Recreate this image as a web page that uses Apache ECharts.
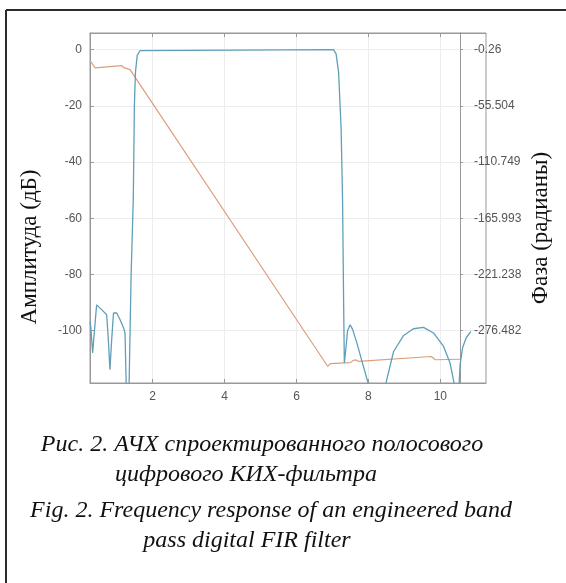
<!DOCTYPE html>
<html>
<head>
<meta charset="utf-8">
<script src="https://cdn.jsdelivr.net/npm/echarts@6/dist/echarts.min.js"></script>
<style>
  html, body { margin: 0; padding: 0; background: #fff; }
  #chart { width: 566px; height: 583px; }
</style>
</head>
<body>
<div id="chart"></div>
<script>
// частота (ось X), метки делений
const xTicks = [2, 4, 6, 8, 10];
const ampTicks = [-100, -80, -60, -40, -20, 0];
const phaseTicks = [-276.482, -221.238, -165.993, -110.749, -55.504, -0.26];

// АЧХ, дБ: [частота, амплитуда]
const amplitude = [
  [0.26, -96.7], [0.28, -99], [0.33, -107.9], [0.38, -100], [0.44, -90.8],
  [0.58, -92.5], [0.72, -94.3], [0.77, -104], [0.81, -113.9], [0.86, -103],
  [0.91, -93.7], [1.0, -93.7], [1.09, -96], [1.19, -99], [1.23, -100.8],
  [1.30, -140], [1.345, -118], [1.40, -80], [1.46, -53], [1.49, -20],
  [1.52, -8], [1.57, -2], [1.65, -0.3], [1.70, 0],
  [7.03, 0], [7.10, -1.5], [7.17, -8], [7.24, -28], [7.28, -53], [7.31, -90],
  [7.33, -111.5], [7.36, -108], [7.42, -100], [7.49, -97.9], [7.56, -99.5],
  [7.68, -104.4], [7.86, -112.7], [7.99, -118.5], [8.02, -140],
  [8.46, -140], [8.49, -118.5], [8.70, -107.4], [8.97, -101.8], [9.25, -99.3],
  [9.53, -98.8], [9.81, -100.8], [10.09, -105.6], [10.27, -111.5], [10.38, -118.5],
  [10.42, -140], [10.50, -125], [10.55, -112], [10.62, -106], [10.72, -102.5], [10.85, -100.2]
];

// ФЧХ: [частота, фаза]
const phase = [
  [0.26, -11.1], [0.30, -13], [0.40, -18.2], [1.14, -16], [1.21, -18.2], [1.37, -19.9],
  [6.87, -311.6], [6.94, -308.9], [7.50, -307.8], [7.58, -305.5], [7.66, -305.2],
  [7.72, -306.5], [9.75, -301.8], [9.80, -302], [9.86, -305], [10.55, -304.5]
];

const chart = echarts.init(document.getElementById("chart"));

const tickFont = { color: "#555", fontFamily: "Liberation Sans", fontSize: 12 };
const serif = "Liberation Serif";

chart.setOption({
  animation: false,
  backgroundColor: "#fff",
  grid: {
    left: 90,
    right: 80,
    top: 33,
    bottom: 200,
    show: true,
    borderColor: "#999",
    borderWidth: 1,
  },
  xAxis: [
    {
      type: "value",
      min: 0.256,
      max: 11.27,
      position: "bottom",
      axisLine: { show: true, onZero: false, lineStyle: { color: "#999" } },
      axisTick: { show: true, inside: true, length: 4, customValues: xTicks, lineStyle: { color: "#999" } },
      axisLabel: { customValues: xTicks, margin: 8, ...tickFont },
      splitLine: { show: true, lineStyle: { color: "#ececec" } },
    },
    {
      type: "value",
      min: 0.256,
      max: 11.27,
      position: "top",
      axisLine: { show: true, onZero: false, lineStyle: { color: "#999" } },
      axisTick: { show: true, inside: true, length: 4, customValues: xTicks, lineStyle: { color: "#999" } },
      axisLabel: { show: false },
      splitLine: { show: false },
    },
  ],
  yAxis: [
    {
      type: "value",
      min: -118.6,
      max: 5.94,
      position: "left",
      axisLine: { show: true, onZero: false, lineStyle: { color: "#999" } },
      axisTick: { show: true, inside: true, length: 4, customValues: ampTicks, lineStyle: { color: "#999" } },
      axisLabel: { customValues: ampTicks, margin: 8, ...tickFont },
      splitLine: { show: true, lineStyle: { color: "#ececec" } },
    },
    {
      type: "value",
      min: -327.85,
      max: 16.15,
      position: "right",
      offset: -26,
      axisLine: { show: true, onZero: false, lineStyle: { color: "#999" } },
      axisTick: { show: true, length: 3, customValues: phaseTicks, lineStyle: { color: "#999" } },
      axisLabel: {
        customValues: phaseTicks,
        margin: 14,
        formatter: (v) => String(v),
        ...tickFont,
      },
      splitLine: { show: false },
    },
  ],
  series: [
    {
      name: "Фаза",
      type: "line",
      xAxisIndex: 0,
      yAxisIndex: 1,
      data: phase,
      showSymbol: false,
      lineStyle: { color: "#dc9f7a", width: 1.2 },
    },
    {
      name: "Амплитуда",
      type: "line",
      xAxisIndex: 0,
      yAxisIndex: 0,
      data: amplitude,
      showSymbol: false,
      lineStyle: { color: "#5f9fb8", width: 1.3 },
    },
  ],
  graphic: [
    // рамка страницы
    { type: "line", shape: { x1: 6, y1: 10, x2: 566, y2: 10 }, style: { stroke: "#2b2b2b", lineWidth: 2 } },
    { type: "line", shape: { x1: 6, y1: 10, x2: 6, y2: 583 }, style: { stroke: "#2b2b2b", lineWidth: 2 } },
    // подписи осей
    {
      type: "text", x: 30, y: 247, rotation: Math.PI / 2,
      style: { text: "Амплитуда (дБ)", font: "23px " + serif, fill: "#111", textAlign: "center", textVerticalAlign: "middle" },
    },
    {
      type: "text", x: 541, y: 228, rotation: Math.PI / 2,
      style: { text: "Фаза (радианы)", font: "23px " + serif, fill: "#111", textAlign: "center", textVerticalAlign: "middle" },
    },
    // подпись рисунка
    {
      type: "text", x: 262, y: 445,
      style: { text: "Рис. 2. АЧХ спроектированного полосового", font: "italic 24px " + serif, fill: "#111", textAlign: "center", textVerticalAlign: "middle" },
    },
    {
      type: "text", x: 246, y: 475,
      style: { text: "цифрового КИХ-фильтра", font: "italic 24px " + serif, fill: "#111", textAlign: "center", textVerticalAlign: "middle" },
    },
    {
      type: "text", x: 271, y: 511,
      style: { text: "Fig. 2. Frequency response of an engineered band", font: "italic 24px " + serif, fill: "#111", textAlign: "center", textVerticalAlign: "middle" },
    },
    {
      type: "text", x: 247, y: 541,
      style: { text: "pass digital FIR filter", font: "italic 24px " + serif, fill: "#111", textAlign: "center", textVerticalAlign: "middle" },
    },
  ],
});
</script>
</body>
</html>
